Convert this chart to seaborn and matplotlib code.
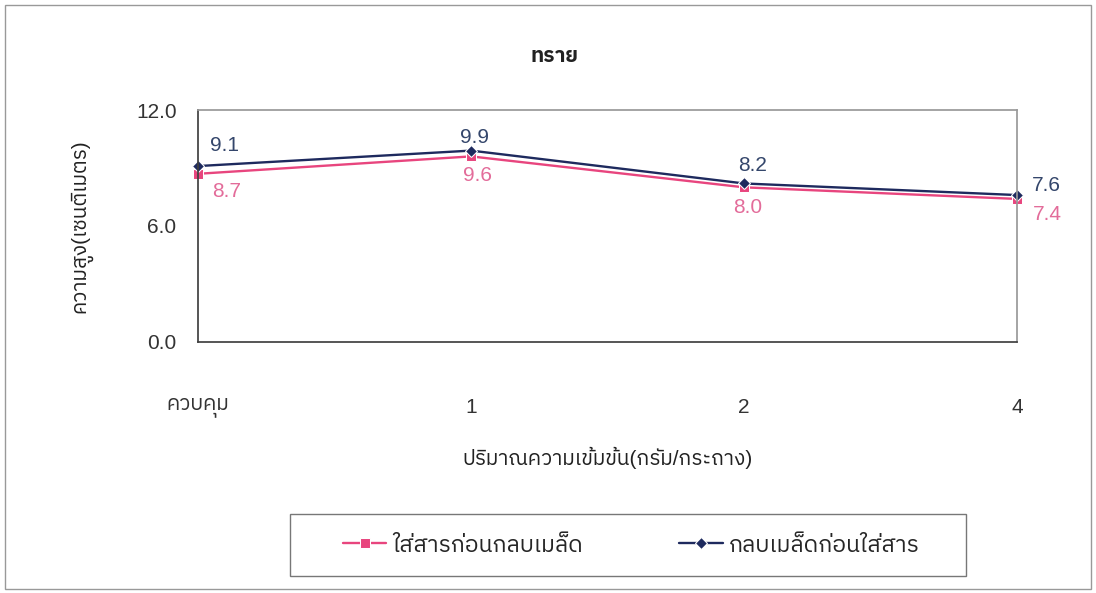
import matplotlib
matplotlib.use('Agg')
import matplotlib.pyplot as plt
import seaborn as sns
import pandas as pd
from matplotlib.patches import Rectangle

doses = ['ควบคุม', '1', '2', '4']
before_cover = [8.7, 9.6, 8.0, 7.4]
after_cover = [9.1, 9.9, 8.2, 7.6]
series_names = ['ใส่สารก่อนกลบเมล็ด', 'กลบเมล็ดก่อนใส่สาร']
y_ticks = [0.0, 6.0, 12.0]

sns.set_theme(style='white')
plt.rcParams['font.family'] = ['Liberation Sans', 'IBM Plex Sans Thai', 'Loma', 'DejaVu Sans']

df = pd.DataFrame({
    'dose': doses * 2,
    'height': before_cover + after_cover,
    'series': [series_names[0]] * 4 + [series_names[1]] * 4,
})

pink = '#E8457E'
navy = '#1E2A5E'

fig = plt.figure(figsize=(10.96, 5.93), dpi=100)
ax = fig.add_axes([0.1807, 0.4233, 0.7473, 0.3912])

sns.lineplot(data=df, x='dose', y='height', hue='series', style='series',
             palette=[pink, navy], markers=['s', 'D'], dashes=False,
             markersize=6.5, linewidth=1.7, ax=ax, legend=True)
for line in ax.lines:
    line.set_clip_on(False)

ax.set_xlim(0, 3)
ax.set_ylim(0, 12)
ax.set_yticks(y_ticks)
ax.set_yticklabels([f'{v:.1f}' for v in y_ticks])
ax.tick_params(axis='x', direction='inout', length=16, width=0.8, pad=32,
               labelsize=15, colors='#333333')
ax.tick_params(axis='y', direction='inout', length=15, width=0.8, pad=8,
               labelsize=15, colors='#333333')
for s in ['left', 'bottom']:
    ax.spines[s].set_color('#404040')
for s in ['top', 'right']:
    ax.spines[s].set_color('#999999')

# data labels (offsets in pixels from the point)
navy_off = [(12, 21, 'left'), (3, 13, 'center'), (8, 18, 'center'), (15, 10, 'left')]
pink_off = [(14, -18, 'left'), (6, -19, 'center'), (4, -20, 'center'), (16, -16, 'left')]
for i, v in enumerate(after_cover):
    dx, dy, ha = navy_off[i]
    ax.annotate(f'{v:.1f}', (i, v), xytext=(dx, dy), textcoords='offset pixels',
                ha=ha, va='center', fontsize=15, color='#34466B')
for i, v in enumerate(before_cover):
    dx, dy, ha = pink_off[i]
    ax.annotate(f'{v:.1f}', (i, v), xytext=(dx, dy), textcoords='offset pixels',
                ha=ha, va='center', fontsize=15, color='#E36C9A')

ax.set_xlabel('ปริมาณความเข้มข้น(กรัม/กระถาง)', fontsize=15, labelpad=21, color='#222222')
ax.set_ylabel('ความสูง(เซนติเมตร)', fontsize=15, labelpad=31, color='#222222')
fig.text(0.506, 0.904, 'ทราย', ha='center', va='center', fontsize=15,
         fontweight='bold', color='#222222')

handles, labels = ax.get_legend_handles_labels()
ax.legend(handles, labels, loc='center', bbox_to_anchor=(631 / 1096, 1 - 545 / 593),
          bbox_transform=fig.transFigure, ncol=2, frameon=False, fontsize=16.5,
          handlelength=1.9, handletextpad=0.25, columnspacing=4.2)
fig.add_artist(Rectangle((290 / 1096, 1 - 576 / 593), 676 / 1096, 62 / 593,
                         transform=fig.transFigure, fill=False,
                         edgecolor='#777777', linewidth=1))

fig.add_artist(Rectangle((0.005, 0.006), 0.99, 0.985, transform=fig.transFigure,
                         fill=False, edgecolor='#999999', linewidth=1))

fig.savefig('out.png', dpi=100)
